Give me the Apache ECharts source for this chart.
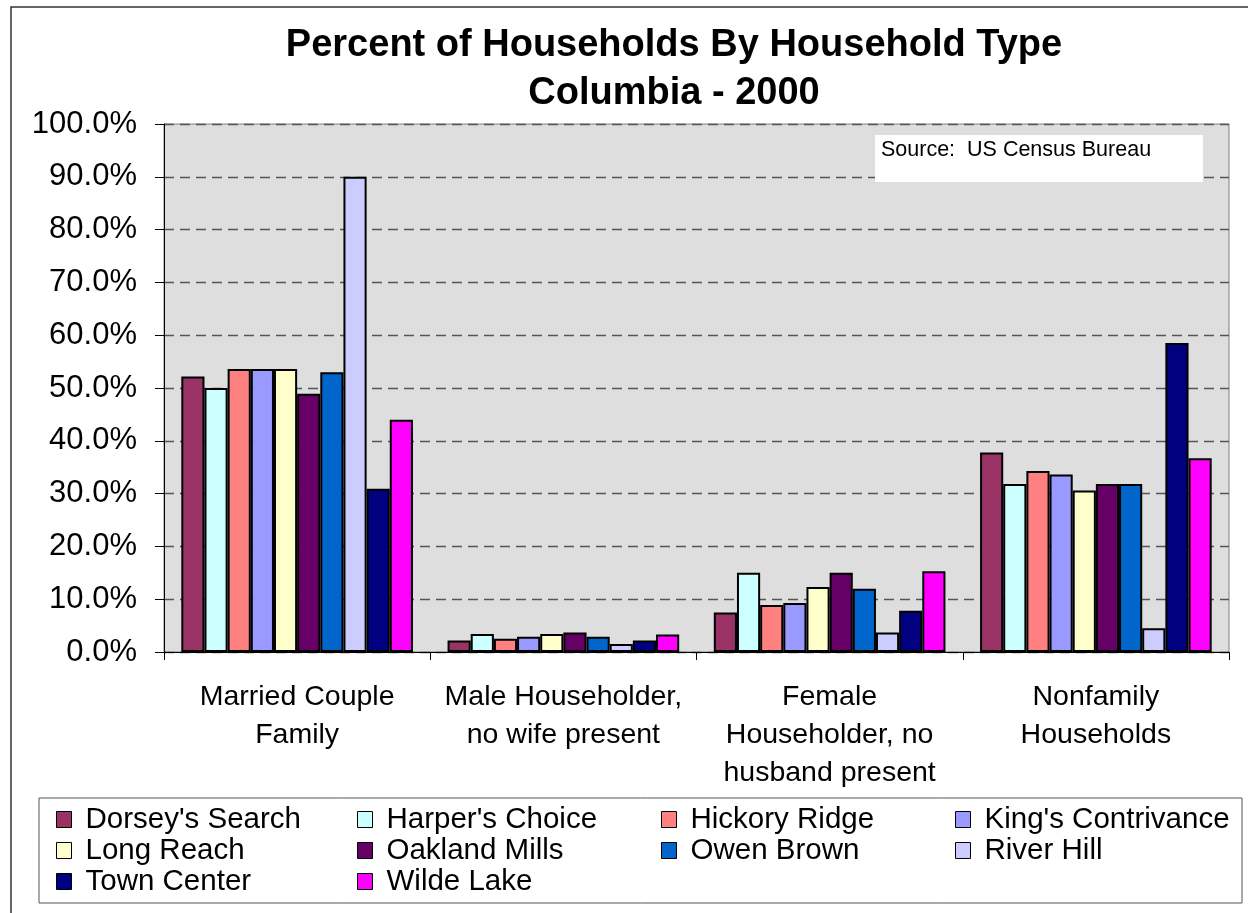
<!DOCTYPE html>
<html>
<head>
<meta charset="utf-8">
<script src="https://cdn.jsdelivr.net/npm/echarts@6/dist/echarts.min.js"></script>
<style>
  html, body { margin: 0; padding: 0; background: #fff; }
  #chart { width: 1248px; height: 913px; }
</style>
</head>
<body>
<div id="chart"></div>
<script>
// household types (x categories)
const categories = [
  'Married Couple\nFamily',
  'Male Householder,\nno wife present',
  'Female\nHouseholder, no\nhusband present',
  'Nonfamily\nHouseholds'
];
const yTicks = [0, 10, 20, 30, 40, 50, 60, 70, 80, 90, 100];

// percent of households, one array per village
const dorseysSearch = [52.2, 2.2, 7.5, 37.8];
const harpersChoice = [50.0, 3.4, 15.0, 31.8];
const hickoryRidge = [53.6, 2.5, 8.9, 34.3];
const kingsContrivance = [53.6, 2.9, 9.3, 33.6];
const longReach = [53.6, 3.4, 12.3, 30.6];
const oaklandMills = [48.9, 3.7, 15.0, 31.8];
const owenBrown = [53.0, 2.9, 12.0, 31.8];
const riverHill = [90.0, 1.5, 3.7, 4.5];
const townCenter = [30.9, 2.2, 7.8, 58.5];
const wildeLake = [44.0, 3.3, 15.3, 36.7];

const FONT = '"Liberation Sans", Arial, sans-serif';

var myChart = echarts.init(document.getElementById('chart'));

function bar(name, data, color) {
  return {
    name: name,
    type: 'bar',
    data: data,
    barGap: '0%',
    barCategoryGap: '13%',
    itemStyle: { color: color, borderColor: '#000', borderWidth: 2 },
    emphasis: { disabled: true }
  };
}

function legendCol(left, names) {
  return {
    orient: 'vertical',
    left: left,
    top: 804,
    padding: 0,
    itemGap: 0,
    itemWidth: 15,
    itemHeight: 16,
    icon: 'rect',
    data: names,
    itemStyle: { borderColor: '#000', borderWidth: 1 },
    textStyle: { fontFamily: FONT, fontSize: 29.5, color: '#000', lineHeight: 31, padding: [0, 0, 0, 9] }
  };
}

myChart.setOption({
  animation: false,
  title: {
    text: 'Percent of Households By Household Type\nColumbia - 2000',
    left: 669,
    textAlign: 'center',
    top: 17,
    textStyle: { fontFamily: FONT, fontSize: 38, fontWeight: 'bold', color: '#000', lineHeight: 48 }
  },
  graphic: [
    {
      type: 'rect',
      shape: { x: 11, y: 7, width: 1400, height: 1000 },
      style: { fill: 'none', stroke: '#333', lineWidth: 1.5 },
      silent: true
    },
    {
      type: 'rect',
      shape: { x: 39, y: 798, width: 1203, height: 105 },
      style: { fill: '#fff', stroke: '#555', lineWidth: 1 },
      silent: true,
      z: -1
    },
    {
      type: 'rect',
      shape: { x: 875, y: 135, width: 328, height: 47 },
      style: { fill: '#fff' },
      silent: true,
      z: 10
    },
    {
      type: 'text',
      x: 881,
      y: 139,
      style: { text: 'Source:  US Census Bureau', fontFamily: FONT, fontSize: 21.5, fill: '#000' },
      silent: true,
      z: 11
    }
  ],
  legend: [
    legendCol(56, ["Dorsey's Search", 'Long Reach', 'Town Center']),
    legendCol(357, ["Harper's Choice", 'Oakland Mills', 'Wilde Lake']),
    legendCol(661, ['Hickory Ridge', 'Owen Brown']),
    legendCol(955, ["King's Contrivance", 'River Hill'])
  ],
  grid: {
    left: 164,
    right: 19,
    top: 124,
    bottom: 261,
    containLabel: false,
    outerBoundsMode: 'none',
    show: true,
    backgroundColor: '#DEDEDE',
    borderColor: '#808080',
    borderWidth: 1
  },
  xAxis: {
    type: 'category',
    data: categories,
    axisLine: { lineStyle: { color: '#000', width: 1 } },
    axisTick: { show: true, length: 8, lineStyle: { color: '#000' } },
    axisLabel: {
      fontFamily: FONT, fontSize: 28.5, color: '#000', lineHeight: 38,
      margin: 26, interval: 0, align: 'center'
    }
  },
  yAxis: {
    type: 'value',
    min: 0,
    max: 100,
    interval: 10,
    axisLine: { show: true, lineStyle: { color: '#000', width: 1 } },
    axisTick: { show: true, length: 9, lineStyle: { color: '#000' } },
    axisLabel: {
      fontFamily: FONT, fontSize: 31, color: '#000', margin: 27,
      formatter: function (v) { return yTicks.indexOf(v) >= 0 ? v.toFixed(1) + '%' : ''; }
    },
    splitLine: { show: true, lineStyle: { color: '#555', type: [10, 6], width: 1.3 } }
  },
  series: [
    bar("Dorsey's Search", dorseysSearch, '#993366'),
    bar("Harper's Choice", harpersChoice, '#CCFFFF'),
    bar('Hickory Ridge', hickoryRidge, '#FF8080'),
    bar("King's Contrivance", kingsContrivance, '#9999FF'),
    bar('Long Reach', longReach, '#FFFFCC'),
    bar('Oakland Mills', oaklandMills, '#660066'),
    bar('Owen Brown', owenBrown, '#0066CC'),
    bar('River Hill', riverHill, '#CCCCFF'),
    bar('Town Center', townCenter, '#000080'),
    bar('Wilde Lake', wildeLake, '#FF00FF')
  ]
});
</script>
</body>
</html>
